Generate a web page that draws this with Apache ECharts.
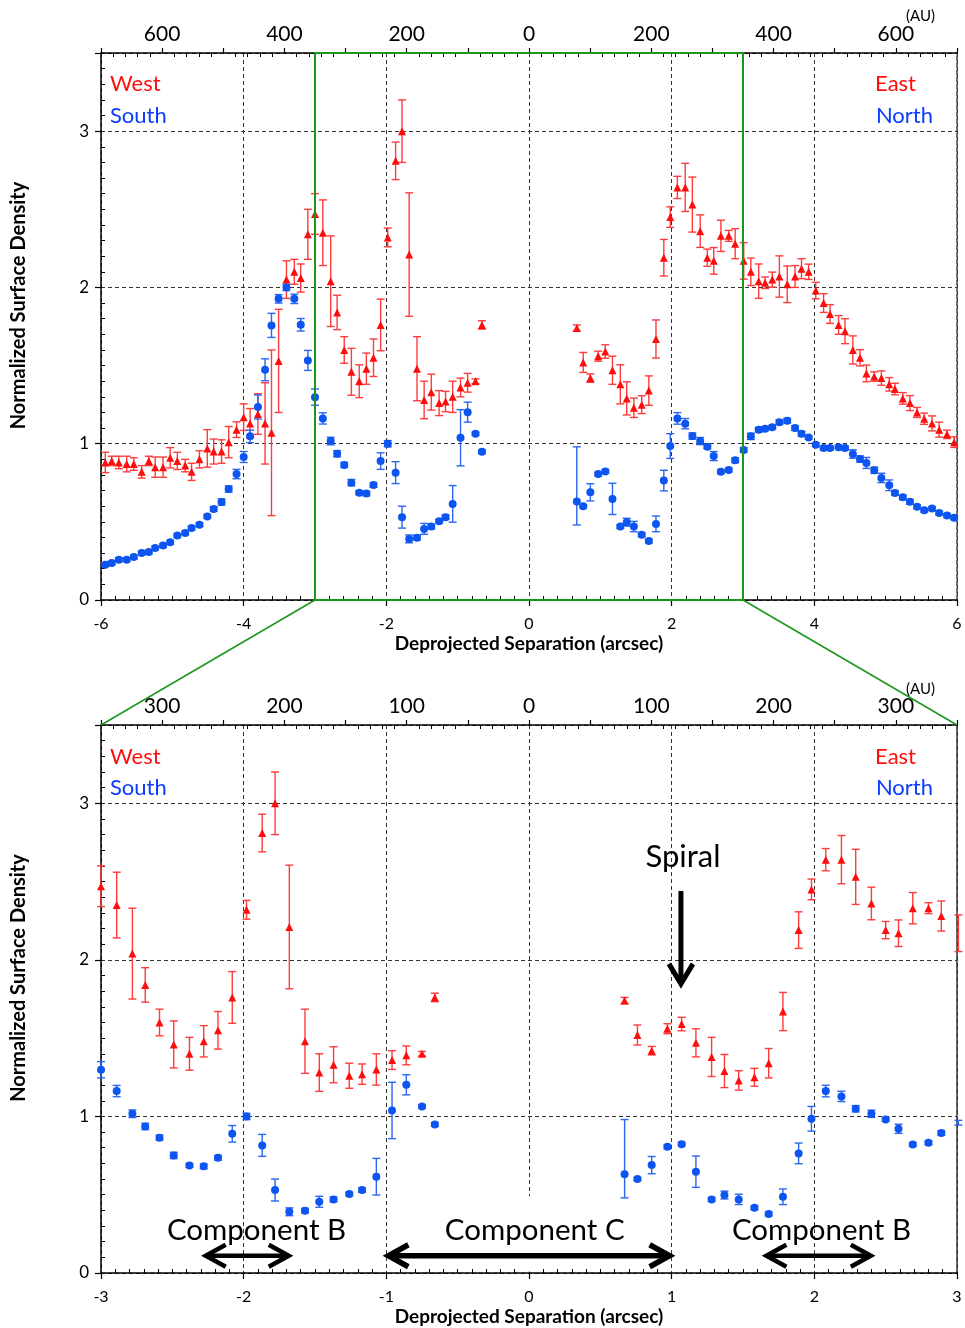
<!DOCTYPE html>
<html>
<head>
<meta charset="utf-8">
<script src="https://cdn.jsdelivr.net/npm/echarts@6/dist/echarts.min.js"></script>
<style>
  html, body { margin: 0; padding: 0; background: #fff; }
  #chart { width: 965px; height: 1328px; }
</style>
</head>
<body>
<div id="chart"></div>
<script>
// Deprojected separation (arcsec) of the West / South samples
const westX = [-5.94,-5.85,-5.75,-5.64,-5.54,-5.43,-5.33,-5.24,-5.13,-5.03,-4.93,-4.82,-4.73,-4.62,-4.51,-4.42,-4.31,-4.21,-4.10,-4.00,-3.91,-3.80,-3.70,-3.61,-3.51,-3.40,-3.29,-3.20,-3.10,-3.00,
  -2.89,-2.78,-2.69,-2.59,-2.49,-2.38,-2.28,-2.18,-2.08,-1.98,-1.87,-1.78,-1.68,-1.57,-1.47,-1.37,-1.26,-1.17,-1.07,-0.96,-0.86,-0.75,-0.66];
const westVal = [0.88,0.89,0.88,0.87,0.87,0.82,0.89,0.85,0.85,0.91,0.89,0.86,0.82,0.90,0.97,0.95,0.95,1.01,1.09,1.17,1.13,1.19,1.13,1.07,1.53,2.05,2.10,2.06,2.34,2.47,
  2.35,2.04,1.84,1.60,1.46,1.40,1.48,1.55,1.76,2.32,2.81,3.00,2.21,1.48,1.28,1.33,1.26,1.27,1.30,1.36,1.39,1.40,1.76];
const westErr = [0.065,0.03,0.04,0.05,0.04,0.04,0.03,0.065,0.065,0.065,0.055,0.04,0.055,0.055,0.12,0.08,0.075,0.10,0.05,0.085,0.095,0.13,0.26,0.53,0.33,0.12,0.08,0.09,0.16,0.13,
  0.21,0.29,0.11,0.085,0.15,0.105,0.10,0.12,0.165,0.06,0.12,0.20,0.395,0.205,0.12,0.115,0.08,0.065,0.10,0.06,0.06,0.015,0.027];
const southVal = [0.226,0.237,0.258,0.258,0.275,0.301,0.307,0.333,0.348,0.369,0.412,0.429,0.461,0.482,0.535,0.582,0.627,0.710,0.806,0.915,1.047,1.235,1.473,1.757,1.927,2.000,1.927,1.761,1.533,1.298,
  1.162,1.017,0.936,0.864,0.751,0.687,0.681,0.736,0.889,1.000,0.815,0.530,0.391,0.398,0.455,0.470,0.504,0.530,0.615,1.038,1.202,1.064,0.949];
const southErr = [0.012,0.012,0.012,0.012,0.012,0.012,0.012,0.012,0.012,0.012,0.012,0.012,0.012,0.012,0.012,0.015,0.02,0.02,0.03,0.035,0.04,0.077,0.07,0.077,0.027,0.02,0.03,0.04,0.064,0.052,
  0.036,0.024,0.02,0.016,0.02,0.012,0.015,0.015,0.053,0.02,0.07,0.07,0.025,0.015,0.035,0.015,0.012,0.015,0.117,0.18,0.064,0.01,0.012];

// Deprojected separation (arcsec) of the East / North samples
const eastX = [0.67,0.76,0.86,0.97,1.07,1.17,1.28,1.37,1.47,1.58,1.68,1.78,1.89,1.98,2.08,2.19,2.29,2.40,2.50,2.59,2.69,2.80,2.89,3.01,
  3.11,3.22,3.31,3.41,3.51,3.62,3.73,3.82,3.92,4.02,4.13,4.22,4.34,4.43,4.54,4.64,4.73,4.84,4.94,5.05,5.13,5.24,5.34,5.44,5.54,5.65,5.75,5.86,5.96];
const eastVal = [1.74,1.52,1.42,1.56,1.59,1.47,1.38,1.29,1.23,1.25,1.34,1.67,2.19,2.45,2.64,2.64,2.53,2.36,2.19,2.17,2.33,2.33,2.28,2.17,
  2.10,2.04,2.03,2.05,2.07,2.02,2.07,2.12,2.10,1.98,1.90,1.83,1.76,1.72,1.60,1.55,1.45,1.43,1.42,1.38,1.35,1.29,1.26,1.20,1.16,1.13,1.09,1.06,1.01];
const eastErr = [0.02,0.064,0.027,0.032,0.043,0.09,0.125,0.106,0.062,0.057,0.094,0.122,0.117,0.066,0.071,0.154,0.176,0.104,0.055,0.085,0.10,0.035,0.096,0.117,
  0.088,0.11,0.037,0.048,0.132,0.117,0.07,0.064,0.049,0.053,0.06,0.06,0.06,0.08,0.09,0.052,0.053,0.03,0.046,0.043,0.037,0.037,0.048,0.032,0.036,0.048,0.048,0.027,0.034];
const northVal = [0.630,0.600,0.689,0.806,0.823,0.647,0.470,0.498,0.470,0.417,0.377,0.487,0.764,0.985,1.162,1.128,1.049,1.017,0.981,0.921,0.821,0.832,0.894,0.960,
  1.047,1.089,1.096,1.106,1.138,1.147,1.100,1.064,1.040,0.994,0.972,0.972,0.977,0.972,0.934,0.902,0.877,0.830,0.781,0.734,0.685,0.657,0.628,0.596,0.574,0.585,0.557,0.540,0.526];
// [below, above] where the bar is asymmetric
const northErr = [[0.15,0.35],0.01,0.055,0.012,0.012,0.1,0.012,0.025,0.033,0.012,0.012,0.05,0.066,0.079,0.037,0.033,0.02,0.023,0.012,0.029,0.012,0.012,0.015,0.015,
  0.02,0.015,0.012,0.012,0.015,0.015,0.015,0.015,0.012,0.012,0.012,0.012,0.012,0.012,0.027,0.02,0.035,0.02,0.03,0.034,0.015,0.015,0.015,0.012,0.012,0.012,0.012,0.012,0.012];

// Axis tick labels
const yTickLabels = [0, 1, 2, 3];
const auLabelsWide = [-600, -400, -200, 0, 200, 400, 600];
const auLabelsZoom = [-300, -200, -100, 0, 100, 200, 300];
const auPerArcsec = 116.67;

// Annotations of the zoomed panel
const componentNames = ['Component B', 'Component C', 'Component B'];
const componentSpans = [[-2.28, -1.67], [-1.0, 1.0], [1.65, 2.41]];
const componentLabelX = [-1.91, 0.04, 2.05];
const componentArrowY = 0.11;
const componentLabelY = 0.27;
const spiralLabel = 'Spiral';
const spiralX = 1.065;
const spiralFrom = 2.44;
const spiralTo = 1.84;
const spiralLabelY = 2.66;

const FONT = 'Lato, "Open Sans", sans-serif';
const RED = '#ff0d0d';
const RED_BAR = '#ff3b3b';
const BLUE = '#0d55f0';
const BLUE_BAR = '#2a66f0';
const TEXT_BLUE = '#0a3cff';
const GREEN = '#1a961a';

const chart = echarts.init(document.getElementById('chart'), null, { renderer: 'canvas' });

function errData(xs, vals, errs, limit) {
  return xs.map((x, i) => {
    const e = errs[i];
    const dn = Array.isArray(e) ? e[0] : e;
    const up = Array.isArray(e) ? e[1] : e;
    return [x, vals[i], vals[i] - dn, vals[i] + up];
  }).filter(d => Math.abs(d[0]) <= limit);
}
function ptData(xs, vals, limit) {
  return xs.map((x, i) => [x, vals[i]]).filter(d => Math.abs(d[0]) <= limit);
}

function errorBarSeries(xs, vals, errs, color, xi, yi, limit) {
  return {
    type: 'custom',
    xAxisIndex: xi, yAxisIndex: yi,
    z: 2,
    silent: true,
    data: errData(xs, vals, errs, limit),
    renderItem: function (params, api) {
      const x = api.value(0);
      const lo = api.coord([x, api.value(2)]);
      const hi = api.coord([x, api.value(3)]);
      const w = 4;
      const style = { stroke: color, lineWidth: 1.4 };
      return {
        type: 'group',
        children: [
          { type: 'line', shape: { x1: lo[0], y1: hi[1], x2: lo[0], y2: lo[1] }, style: style },
          { type: 'line', shape: { x1: lo[0] - w, y1: hi[1], x2: lo[0] + w, y2: hi[1] }, style: style },
          { type: 'line', shape: { x1: lo[0] - w, y1: lo[1], x2: lo[0] + w, y2: lo[1] }, style: style }
        ]
      };
    }
  };
}

function markerSeries(xs, vals, symbol, size, color, xi, yi, limit) {
  return {
    type: 'scatter',
    xAxisIndex: xi, yAxisIndex: yi,
    z: 3,
    silent: true,
    symbol: symbol,
    symbolSize: size,
    itemStyle: { color: color, opacity: 1 },
    data: ptData(xs, vals, limit)
  };
}

function yAxisFor(gridIndex) {
  return {
    gridIndex: gridIndex,
    type: 'value',
    min: 0, max: 3.5, interval: 1,
    name: 'Normalized Surface Density',
    nameLocation: 'middle',
    nameGap: 72,
    // the left padding lifts the rotated title slightly above the panel centre
    nameTextStyle: { fontFamily: FONT, fontWeight: 'bold', fontSize: 20, color: '#000', padding: [0, 0, 0, 42] },
    axisLine: { show: true, onZero: false, lineStyle: { color: '#000', width: 1.5 } },
    axisTick: { show: true, inside: false, length: 6, lineStyle: { color: '#000', width: 1.2 } },
    minorTick: { show: true, splitNumber: 10, length: -4, lineStyle: { color: '#000', width: 1 } },
    axisLabel: {
      fontFamily: FONT, fontSize: 17, color: '#000', margin: 12,
      formatter: v => (yTickLabels.indexOf(v) >= 0 ? String(v) : '')
    },
    splitLine: { show: true, lineStyle: { color: '#333', type: [4, 3], width: 1 } }
  };
}

function arcsecAxis(gridIndex, lim, step) {
  return {
    gridIndex: gridIndex,
    type: 'value',
    position: 'bottom',
    min: -lim, max: lim, interval: step,
    name: 'Deprojected Separation (arcsec)',
    nameLocation: 'middle',
    nameGap: 34,
    nameTextStyle: { fontFamily: FONT, fontWeight: 'bold', fontSize: 19, color: '#000' },
    axisLine: { show: true, onZero: false, lineStyle: { color: '#000', width: 1.5 } },
    axisTick: { show: true, inside: false, length: 6, lineStyle: { color: '#000', width: 1.2 } },
    minorTick: { show: true, splitNumber: 10, length: -4, lineStyle: { color: '#000', width: 1 } },
    axisLabel: { fontFamily: FONT, fontSize: 16, color: '#000', margin: 16 },
    splitLine: { show: true, lineStyle: { color: '#333', type: [4, 3], width: 1 } }
  };
}

function auAxis(gridIndex, arcLim, step, labels) {
  const lim = Math.round(arcLim * auPerArcsec);
  return {
    gridIndex: gridIndex,
    type: 'value',
    position: 'top',
    min: -lim, max: lim, interval: step,
    axisLine: { show: true, onZero: false, lineStyle: { color: '#000', width: 1.5 } },
    axisTick: { show: true, inside: false, length: 5, lineStyle: { color: '#000', width: 1.2 } },
    minorTick: { show: true, splitNumber: 5, length: -4, lineStyle: { color: '#000', width: 1 } },
    axisLabel: {
      fontFamily: FONT, fontSize: 21, color: '#000', margin: 8,
      formatter: v => {
        const r = Math.round(v);
        return labels.indexOf(r) >= 0 ? String(Math.abs(r)) : '';
      }
    },
    splitLine: { show: false }
  };
}

// Arrows and captions drawn in the zoomed panel
function chevron(tip, dx, dy, len, half) {
  // (dx, dy): unit vector pointing towards the tip
  const bx = tip[0] - dx * len, by = tip[1] - dy * len;
  const px = -dy, py = dx;
  return [[bx + px * half, by + py * half], [tip[0], tip[1]], [bx - px * half, by - py * half]];
}

const annotationSeries = {
  type: 'custom',
  xAxisIndex: 2, yAxisIndex: 1,
  z: 5,
  silent: true,
  data: componentNames.map((n, i) => [i]),
  renderItem: function (params, api) {
    const i = params.dataIndex;
    const span = componentSpans[i];
    const a = api.coord([span[0], componentArrowY]);
    const b = api.coord([span[1], componentArrowY]);
    const lw = i === 1 ? 5.5 : 4.5;
    const headStyle = { stroke: '#000', fill: null, lineWidth: lw, lineJoin: 'miter', lineCap: 'butt' };
    const lp = api.coord([componentLabelX[i], componentLabelY]);
    const children = [];
    if (i === 1) {
      // white backing keeps the centre grid line clear under the caption
      const top = api.coord([0, componentLabelY + 0.22]);
      const bot = api.coord([0, 0.01]);
      children.push({ type: 'rect', shape: { x: top[0] - 8, y: top[1], width: 16, height: bot[1] - top[1] }, style: { fill: '#fff' } });
    }
    children.push(
      { type: 'line', shape: { x1: a[0] + 3, y1: a[1], x2: b[0] - 3, y2: b[1] }, style: { stroke: '#000', lineWidth: lw } },
      { type: 'polyline', shape: { points: chevron([a[0] + 2, a[1]], -1, 0, 20, 11) }, style: headStyle },
      { type: 'polyline', shape: { points: chevron([b[0] - 2, b[1]], 1, 0, 20, 11) }, style: headStyle },
      { type: 'text', x: lp[0], y: lp[1], style: { text: componentNames[i], fontFamily: FONT, fontSize: 29.5, fill: '#000', align: 'center', verticalAlign: 'middle' } }
    );
    if (i === 0) {
      const s0 = api.coord([spiralX, spiralFrom]);
      const s1 = api.coord([spiralX, spiralTo]);
      const sl = api.coord([spiralX, spiralLabelY]);
      children.push(
        { type: 'line', shape: { x1: s0[0], y1: s0[1], x2: s1[0], y2: s1[1] - 3 }, style: { stroke: '#000', lineWidth: 5 } },
        { type: 'polyline', shape: { points: chevron([s1[0], s1[1] - 1], 0, 1, 20, 12) }, style: { stroke: '#000', fill: null, lineWidth: 5, lineJoin: 'miter' } },
        { type: 'text', x: sl[0] + 2, y: sl[1], style: { text: spiralLabel, fontFamily: FONT, fontSize: 31, fill: '#000', align: 'center', verticalAlign: 'middle' } }
      );
    }
    return { type: 'group', children: children };
  }
};

const WIDE = 6.05, ZOOM = 3.02;

const option = {
  animation: false,
  backgroundColor: '#fff',
  textStyle: { fontFamily: FONT },
  grid: [
    { left: 101, right: 8, top: 53, height: 547 },
    { left: 101, right: 8, top: 725, height: 548 }
  ],
  xAxis: [
    arcsecAxis(0, 6, 2),
    auAxis(0, 6, 100, auLabelsWide),
    arcsecAxis(1, 3, 1),
    auAxis(1, 3, 50, auLabelsZoom)
  ],
  yAxis: [
    yAxisFor(0),
    yAxisFor(1),
    {
      gridIndex: 0, type: 'value', position: 'right', min: 0, max: 3.5,
      axisLine: { show: true, onZero: false, lineStyle: { color: '#444', width: 1.5, type: [5, 2] } },
      axisTick: { show: false }, axisLabel: { show: false }, splitLine: { show: false }
    },
    {
      gridIndex: 1, type: 'value', position: 'right', min: 0, max: 3.5,
      axisLine: { show: true, onZero: false, lineStyle: { color: '#333', width: 1.5 } },
      axisTick: { show: false }, axisLabel: { show: false }, splitLine: { show: false }
    }
  ],
  series: [
    errorBarSeries(westX, westVal, westErr, RED_BAR, 0, 0, WIDE),
    errorBarSeries(westX, southVal, southErr, BLUE_BAR, 0, 0, WIDE),
    errorBarSeries(eastX, eastVal, eastErr, RED_BAR, 0, 0, WIDE),
    errorBarSeries(eastX, northVal, northErr, BLUE_BAR, 0, 0, WIDE),
    markerSeries(westX, westVal, 'triangle', 8, RED, 0, 0, WIDE),
    markerSeries(westX, southVal, 'circle', 8, BLUE, 0, 0, WIDE),
    markerSeries(eastX, eastVal, 'triangle', 8, RED, 0, 0, WIDE),
    markerSeries(eastX, northVal, 'circle', 8, BLUE, 0, 0, WIDE),

    errorBarSeries(westX, westVal, westErr, RED_BAR, 2, 1, ZOOM),
    errorBarSeries(westX, southVal, southErr, BLUE_BAR, 2, 1, ZOOM),
    errorBarSeries(eastX, eastVal, eastErr, RED_BAR, 2, 1, ZOOM),
    errorBarSeries(eastX, northVal, northErr, BLUE_BAR, 2, 1, ZOOM),
    markerSeries(westX, westVal, 'triangle', 8, RED, 2, 1, ZOOM),
    markerSeries(westX, southVal, 'circle', 8, BLUE, 2, 1, ZOOM),
    markerSeries(eastX, eastVal, 'triangle', 8, RED, 2, 1, ZOOM),
    markerSeries(eastX, northVal, 'circle', 8, BLUE, 2, 1, ZOOM),

    annotationSeries
  ]
};

chart.setOption(option);

// Direction captions, unit caption and the zoom-region outline
const p = (xi, yi, v) => chart.convertToPixel({ xAxisIndex: xi, yAxisIndex: yi }, v);
const rTL = p(0, 0, [-3, 3.5]);
const rBR = p(0, 0, [3, 0]);
const zTL = p(2, 1, [-3, 3.5]);
const zTR = p(2, 1, [3, 3.5]);
const top0 = p(0, 0, [-6, 3.5]);
const top1 = p(2, 1, [-3, 3.5]);

function caption(text, x, y, color, align) {
  return { type: 'text', x: x, y: y, z: 10, style: { text: text, fontFamily: FONT, fontSize: 22, fill: color, align: align, verticalAlign: 'middle' } };
}

chart.setOption({
  graphic: [
    { type: 'rect', z: 8, shape: { x: rTL[0], y: rTL[1], width: rBR[0] - rTL[0], height: rBR[1] - rTL[1] }, style: { fill: null, stroke: GREEN, lineWidth: 2 } },
    { type: 'line', z: 8, shape: { x1: rTL[0], y1: rBR[1], x2: zTL[0], y2: zTL[1] }, style: { stroke: GREEN, lineWidth: 1.5 } },
    { type: 'line', z: 8, shape: { x1: rBR[0], y1: rBR[1], x2: zTR[0], y2: zTR[1] }, style: { stroke: GREEN, lineWidth: 1.5 } },

    caption('West', 110, top0[1] + 31, RED, 'left'),
    caption('South', 110, top0[1] + 63, TEXT_BLUE, 'left'),
    caption('East', 916, top0[1] + 31, RED, 'right'),
    caption('North', 933, top0[1] + 63, TEXT_BLUE, 'right'),
    caption('West', 110, top1[1] + 32, RED, 'left'),
    caption('South', 110, top1[1] + 63, TEXT_BLUE, 'left'),
    caption('East', 916, top1[1] + 32, RED, 'right'),
    caption('North', 933, top1[1] + 63, TEXT_BLUE, 'right'),

    { type: 'text', x: 906, y: top0[1] - 37, z: 10, style: { text: '(AU)', fontFamily: FONT, fontSize: 15, fill: '#000', verticalAlign: 'middle' } },
    { type: 'text', x: 906, y: top1[1] - 36, z: 10, style: { text: '(AU)', fontFamily: FONT, fontSize: 15, fill: '#000', verticalAlign: 'middle' } }
  ]
});
</script>
</body>
</html>
